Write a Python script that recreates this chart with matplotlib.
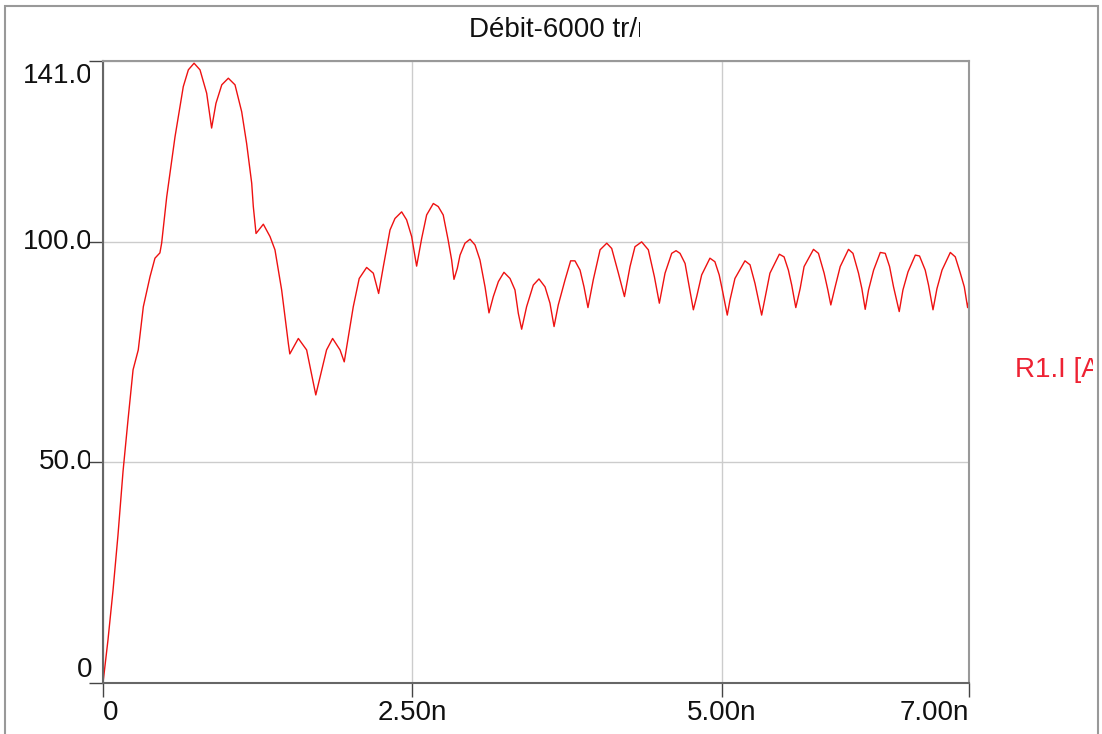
import matplotlib.pyplot as plt
from matplotlib.patches import Rectangle
from matplotlib.transforms import Bbox

plt.rcParams['font.family'] = ['Liberation Sans', 'DejaVu Sans']

# time in ms, current in A
t_ms = [0.0, 0.04, 0.081, 0.121, 0.162, 0.202, 0.243, 0.285, 0.326, 0.38, 0.42, 0.46, 0.474,
        0.515, 0.582, 0.649, 0.69, 0.736, 0.784, 0.838, 0.878, 0.913, 0.96, 1.013, 1.067,
        1.121, 1.161, 1.202, 1.215, 1.237, 1.296, 1.35, 1.39, 1.444, 1.498, 1.51, 1.579,
        1.646, 1.72, 1.807, 1.856, 1.916, 1.95, 2.023, 2.071, 2.131, 2.185, 2.228, 2.266,
        2.32, 2.36, 2.414, 2.454, 2.495, 2.535, 2.576, 2.616, 2.67, 2.71, 2.75, 2.79,
        2.818, 2.837, 2.864, 2.886, 2.926, 2.967, 3.007, 3.047, 3.088, 3.12, 3.155, 3.196,
        3.241, 3.29, 3.33, 3.357, 3.384, 3.424, 3.478, 3.524, 3.573, 3.613, 3.646, 3.68,
        3.735, 3.78, 3.815, 3.856, 3.888, 3.92, 3.963, 4.018, 4.072, 4.112, 4.166, 4.215,
        4.26, 4.3, 4.354, 4.408, 4.457, 4.497, 4.543, 4.597, 4.632, 4.664, 4.705, 4.739,
        4.772, 4.799, 4.839, 4.906, 4.946, 4.981, 5.009, 5.046, 5.068, 5.108, 5.189, 5.23,
        5.27, 5.324, 5.359, 5.391, 5.467, 5.505, 5.54, 5.567, 5.6, 5.635, 5.667, 5.743,
        5.783, 5.829, 5.859, 5.883, 5.918, 5.959, 6.026, 6.062, 6.107, 6.134, 6.161, 6.188,
        6.229, 6.283, 6.323, 6.358, 6.39, 6.436, 6.466, 6.507, 6.566, 6.6, 6.646, 6.673,
        6.709, 6.741, 6.782, 6.849, 6.889, 6.93, 6.962, 6.989, 7.0]
i_amp = [0.0, 9.7, 21.0, 33.5, 48.0, 59.6, 71.0, 75.5, 85.3, 92.1, 96.3, 97.5, 99.7,
         110.2, 123.8, 135.2, 139.0, 140.5, 139.0, 133.7, 125.8, 131.4, 135.6, 137.1, 135.6,
         129.5, 122.3, 113.3, 108.0, 101.9, 104.0, 101.2, 98.2, 89.1, 77.0, 74.6, 78.1,
         75.5, 65.3, 75.5, 78.1, 75.5, 72.8, 85.3, 91.7, 94.2, 92.9, 88.3, 94.4,
         102.7, 105.3, 106.8, 105.0, 101.2, 94.5, 100.8, 106.1, 108.7, 108.0, 106.1, 100.4,
         95.9, 91.5, 94.0, 97.0, 99.7, 100.6, 99.3, 95.9, 89.8, 83.9, 87.6, 91.0,
         93.1, 91.7, 89.1, 83.8, 80.2, 85.3, 90.2, 91.6, 89.8, 86.1, 80.8, 85.7,
         91.4, 95.7, 95.7, 93.6, 89.8, 85.1, 91.4, 98.2, 99.7, 98.5, 92.9, 87.6,
         94.4, 98.9, 100.0, 98.2, 92.1, 86.1, 92.9, 97.4, 98.0, 97.4, 95.1, 89.8,
         84.6, 87.6, 92.5, 96.3, 95.5, 92.5, 88.7, 83.4, 86.8, 91.7, 95.7, 94.8,
         90.6, 83.4, 88.3, 92.9, 97.2, 96.6, 93.6, 90.2, 85.1, 89.4, 94.4, 98.3,
         97.4, 92.9, 89.1, 85.7, 89.8, 94.4, 98.3, 97.4, 92.9, 89.4, 84.7, 89.1,
         93.6, 97.6, 97.4, 94.4, 89.8, 84.2, 89.1, 93.2, 97.0, 96.8, 93.6, 90.2,
         84.6, 89.4, 93.6, 97.6, 96.6, 92.9, 89.8, 85.1, 86.8]

x_ticks = [0, 2.5, 5.0, 7.0]
x_labels = ['0', '2.50n', '5.00n', '7.00n']
y_ticks = [0, 50, 100, 141]
y_labels = ['0', '50.00', '100.00', '141.00']

fs = 20

fig = plt.figure(figsize=(11.02, 7.34), dpi=100)
ax = fig.add_axes([103 / 1102, 51 / 734, 866 / 1102, 622 / 734])

ax.plot(t_ms, i_amp, color='#ee1111', lw=1.0)
ax.set_xlim(0, 7.0)
ax.set_ylim(0, 141)

ax.set_xticks(x_ticks, x_labels)
ax.set_yticks(y_ticks, [''] * len(y_ticks))
ax.grid(True, color='#cccccc', lw=1.0)
ax.tick_params(axis='both', direction='out', length=10, width=1.0, color='#444444',
               labelsize=fs, labelcolor='#111111', pad=2)
ax.tick_params(axis='y', pad=0)
xl = ax.get_xticklabels()
xl[0].set_ha('left')
xl[-1].set_ha('right')

for side in ['left', 'bottom']:
    ax.spines[side].set_color('#666666')
    ax.spines[side].set_linewidth(1.5)
for side in ['top', 'right']:
    ax.spines[side].set_color('#999999')
    ax.spines[side].set_linewidth(1.5)

# y tick labels, cut off at the tick like in the original
clip = Bbox.from_extents(0, 0, 90, 734)
for v, lab in zip(y_ticks, y_labels):
    if lab == '0':
        ax.text(-0.0127, v, lab, transform=ax.get_yaxis_transform(), ha='right',
                va='bottom', fontsize=fs, color='#111111', clip_on=False)
        continue
    tx = ax.text(0.0058, v, lab, transform=ax.get_yaxis_transform(), ha='right',
                 va='center', fontsize=fs, color='#111111', clip_on=True)
    if v == max(y_ticks):
        tx.set_y(v - 3.5)
    tx.set_clip_box(clip)

# outer frame
fig.patches.append(Rectangle((5 / 1102, -0.05), 1093 / 1102, 1.05 - 6 / 734,
                             transform=fig.transFigure, fill=False, ec='#999999', lw=1.5))

title = fig.text(469 / 1102, 1 - 30 / 734, 'Débit-6000 tr/min', ha='left', va='center',
                 fontsize=fs, color='#111111', clip_on=True)
title.set_clip_box(Bbox.from_extents(0, 0, 640, 734))

leg = fig.text(1015 / 1102, 1 - 370 / 734, 'R1.I [A]', ha='left', va='center',
               fontsize=fs, color='#ee2233', clip_on=True)
leg.set_clip_box(Bbox.from_extents(0, 0, 1093, 734))

fig.savefig('out.png', dpi=100)
